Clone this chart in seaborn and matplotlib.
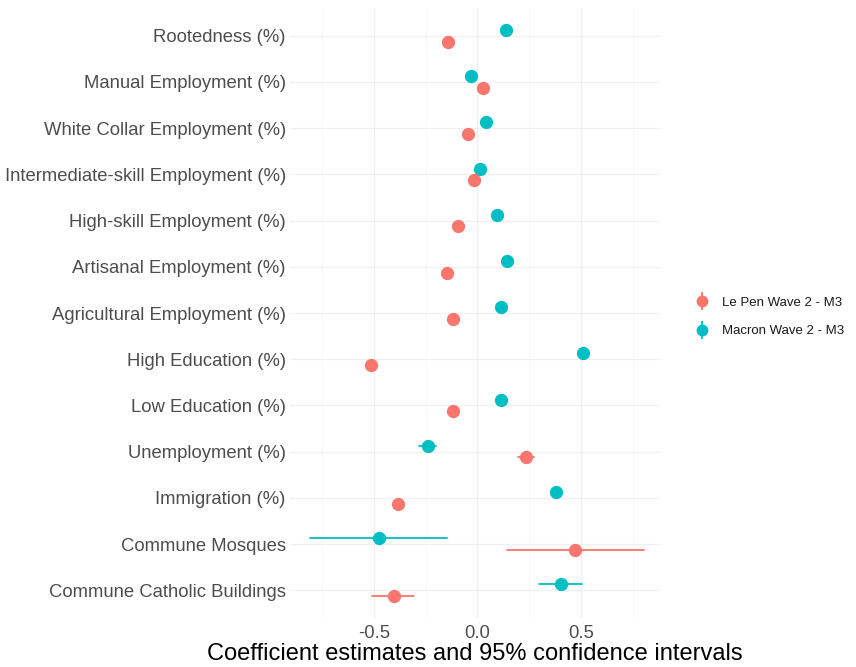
import numpy as np
import pandas as pd
import matplotlib
matplotlib.use("Agg")
import matplotlib.pyplot as plt
from matplotlib.lines import Line2D
from matplotlib.legend_handler import HandlerTuple
import seaborn as sns

terms = [
    "Rootedness (%)",
    "Manual Employment (%)",
    "White Collar Employment (%)",
    "Intermediate-skill Employment (%)",
    "High-skill Employment (%)",
    "Artisanal Employment (%)",
    "Agricultural Employment (%)",
    "High Education (%)",
    "Low Education (%)",
    "Unemployment (%)",
    "Immigration (%)",
    "Commune Mosques",
    "Commune Catholic Buildings",
]

models = ["Le Pen Wave 2 - M3", "Macron Wave 2 - M3"]

lepen_est = [-0.143, 0.027, -0.043, -0.018, -0.095, -0.145, -0.119,
             -0.515, -0.119, 0.235, -0.385, 0.473, -0.404]
lepen_lo = [-0.160, 0.012, -0.058, -0.033, -0.110, -0.160, -0.134,
            -0.532, -0.134, 0.195, -0.402, 0.142, -0.509]
lepen_hi = [-0.126, 0.042, -0.028, -0.003, -0.080, -0.130, -0.104,
            -0.498, -0.104, 0.275, -0.368, 0.807, -0.304]

macron_est = [0.140, -0.030, 0.042, 0.013, 0.093, 0.142, 0.116,
              0.512, 0.116, -0.238, 0.382, -0.477, 0.404]
macron_lo = [0.125, -0.045, 0.027, -0.002, 0.078, 0.127, 0.101,
             0.495, 0.101, -0.280, 0.365, -0.808, 0.300]
macron_hi = [0.155, -0.015, 0.057, 0.028, 0.108, 0.157, 0.131,
             0.529, 0.131, -0.200, 0.399, -0.146, 0.504]

palette = {"Le Pen Wave 2 - M3": "#F8766D", "Macron Wave 2 - M3": "#00BFC4"}

# Long table: lower bound, estimate and upper bound per term and model, so
# the median is the estimate and the full percentile range is the interval.
rows = []
for model, est, lo, hi in [
    (models[0], lepen_est, lepen_lo, lepen_hi),
    (models[1], macron_est, macron_lo, macron_hi),
]:
    for t, e, l, h in zip(terms, est, lo, hi):
        for v in (l, e, h):
            rows.append({"term": t, "model": model, "value": v})
df = pd.DataFrame(rows)

sns.set_theme(style="white")
plt.rcParams["font.family"] = ["Liberation Sans", "DejaVu Sans"]

fig = plt.figure(figsize=(8.56, 6.67), dpi=100)
ax = fig.add_axes([290 / 856, 1 - 618 / 667, 370 / 856, 610 / 667])

sns.pointplot(
    data=df, x="value", y="term", hue="model",
    order=terms, hue_order=[models[1], models[0]],
    estimator="median", errorbar=("pi", 100),
    dodge=0.25, linestyle="none", markers="o", markersize=7.5,
    err_kws={"linewidth": 1.3}, palette=palette, ax=ax,
)

if ax.get_legend() is not None:
    ax.get_legend().remove()

ax.set_xlim(-0.905, 0.882)
ax.set_ylim(len(terms) - 1 + 0.6, -0.6)

ax.set_xticks([-0.5, 0.0, 0.5])
ax.set_xticklabels(["-0.5", "0.0", "0.5"])
ax.set_xticks([-0.75, -0.25, 0.25, 0.75], minor=True)
ax.grid(True, which="major", axis="both", color="#F0F0F0", linewidth=0.9)
ax.grid(True, which="minor", axis="x", color="#F6F6F6", linewidth=0.6)
ax.set_axisbelow(True)
for s in ax.spines.values():
    s.set_visible(False)
ax.tick_params(axis="both", which="both", length=0, labelsize=13.3,
               labelcolor="#4D4D4D", pad=3)
ax.tick_params(axis="x", pad=5)
ax.set_ylabel("")
ax.set_xlabel("Coefficient estimates and 95% confidence intervals",
              fontsize=17, color="black", labelpad=1)

handles = []
for m in models:
    bar = Line2D([], [], linestyle="none", marker="|", markersize=13,
                 markeredgewidth=1.3, color=palette[m])
    dot = Line2D([], [], linestyle="none", marker="o", markersize=7.5,
                 color=palette[m])
    handles.append((bar, dot))
fig.legend(handles, models, handler_map={tuple: HandlerTuple(ndivide=1, pad=0)},
           loc="center left", bbox_to_anchor=(682 / 856, 1 - 317 / 667),
           frameon=False, fontsize=9.5, handlelength=1.2, handletextpad=0.9,
           labelspacing=1.2, labelcolor="#1A1A1A")

fig.savefig("out.png", dpi=100, facecolor="white")
